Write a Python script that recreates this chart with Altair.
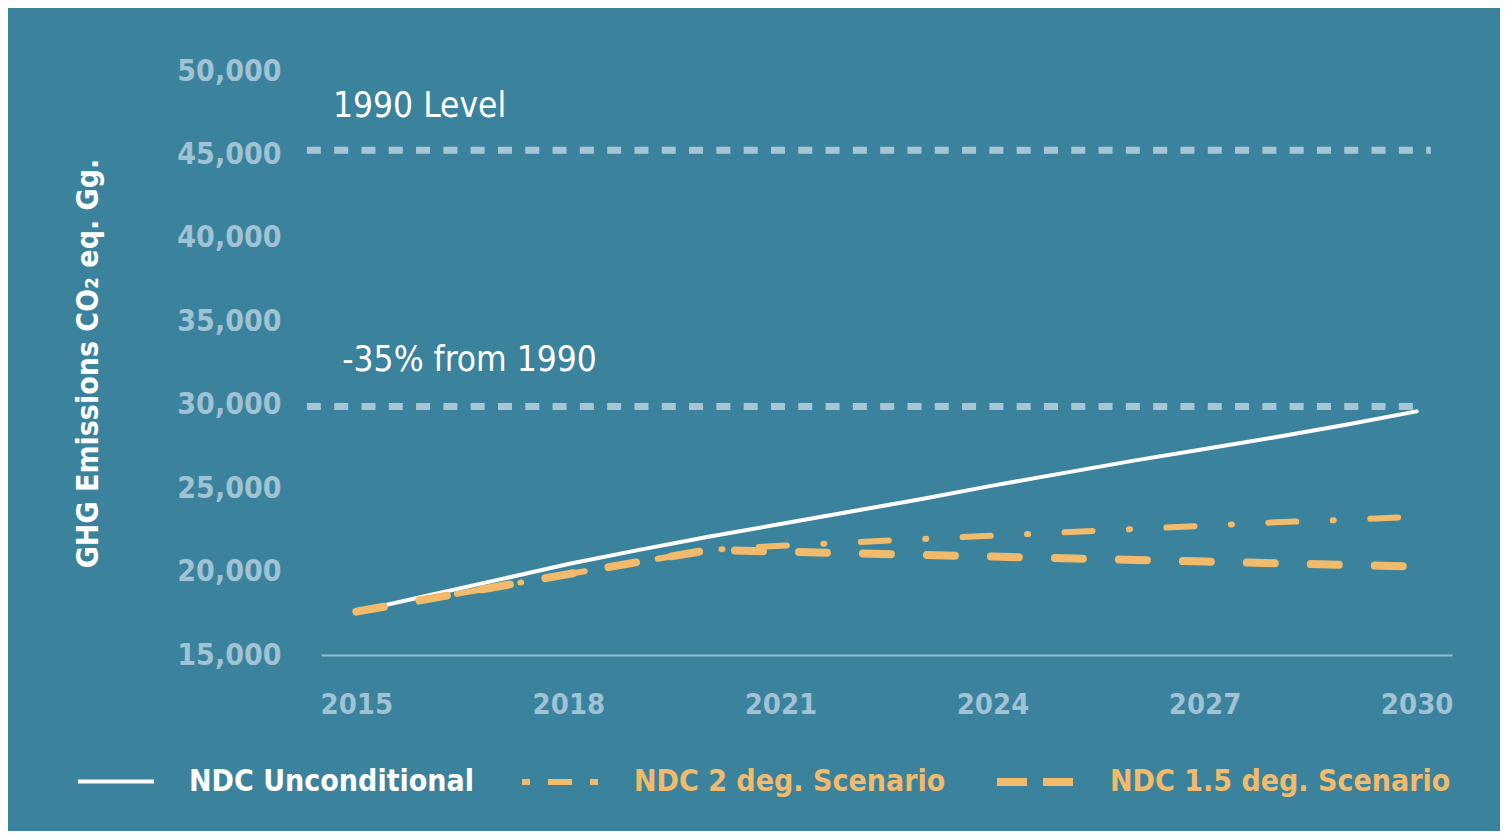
import altair as alt
import pandas as pd

# ---- data ----
years = list(range(2015, 2031))
unconditional = [17600, 18550, 19500, 20450, 21300, 22100, 22850, 23600, 24350,
                 25150, 25900, 26650, 27350, 28050, 28800, 29600]
two_deg = [17600, 18350, 19100, 19850, 20580, 21300, 21550, 21750, 21950,
           22150, 22350, 22550, 22750, 22950, 23100, 23300]
one_five_deg = [17600, 18350, 19100, 19850, 20580, 21300, 21200, 21100, 21000,
                20900, 20800, 20700, 20600, 20500, 20400, 20300]
series_names = ["NDC Unconditional", "NDC 2 deg. Scenario", "NDC 1.5 deg. Scenario"]

ref_values = [45250, 29900]
ref_start = [2014.3, 2014.3]
ref_end = [2030.2, 2030.0]
ref_labels = ["1990 Level", "-35% from 1990"]
label_x = [2014.67, 2014.8]
label_y = [47900, 32650]

x_ticks = [2015, 2018, 2021, 2024, 2027, 2030]
y_ticks = [15000, 20000, 25000, 30000, 35000, 40000, 45000, 50000]

BG = "#3b839d"
LIGHT = "#9fc2d5"
ORANGE = "#f2bb6b"
REF = "#a6c6d7"
FONT = "DejaVu Sans Condensed, DejaVu Sans"

rows = []
for name, vals in zip(series_names, [unconditional, two_deg, one_five_deg]):
    for y, v in zip(years, vals):
        rows.append({"year": y, "value": v, "series": name})
df = pd.DataFrame(rows)

ref_df = pd.DataFrame({"value": ref_values, "x0": ref_start, "x1": ref_end})
lab_df = pd.DataFrame({"text": ref_labels, "x": label_x, "y": label_y})

xscale = alt.Scale(domain=[2014.5, 2030.5], nice=False, zero=False)
yscale = alt.Scale(domain=[15000, 50000], nice=False, zero=False)
xaxis = alt.Axis(values=x_ticks, format="d", title=None)
ytitle = "GHG Emissions CO₂ eq. Gg."
yaxis = alt.Axis(values=y_ticks, format=",.0f", title=ytitle)

rules = alt.Chart(ref_df).mark_rule(
    color=REF, strokeWidth=7, strokeDash=[14, 13.3], strokeCap="butt"
).encode(
    x=alt.X("x0:Q", scale=xscale, axis=xaxis, title=None),
    x2="x1:Q",
    y=alt.Y("value:Q", scale=yscale, axis=yaxis, title=ytitle),
)

labels = alt.Chart(lab_df).mark_text(
    align="left", baseline="middle", font=FONT, fontSize=35, color="white"
).encode(
    x=alt.X("x:Q", scale=xscale, axis=xaxis, title=None),
    y=alt.Y("y:Q", scale=yscale, axis=yaxis, title=ytitle),
    text="text:N",
)

dash_expr = ("datum.value == 'NDC 2 deg. Scenario' ? [8, 18, 24, 18, 8, 200] : "
             "datum.value == 'NDC 1.5 deg. Scenario' ? [30, 16, 30, 200] : [1, 0]")
fill_expr = f"datum.value == 'NDC Unconditional' ? 'white' : '{ORANGE}'"

legend = alt.Legend(
    title=None, orient="none", direction="horizontal",
    legendX=-245, legendY=669,
    symbolType="stroke", symbolSize=5776,
    symbolDash=alt.ExprRef(expr=dash_expr),
    labelOffset=33, columnPadding=35, padding=0,
    labelFont=FONT, labelFontSize=30, labelFontWeight="bold",
    labelColor=alt.ExprRef(expr=fill_expr),
    labelLimit=600)

color = alt.Color("series:N",
                  scale=alt.Scale(domain=series_names,
                                  range=["white", ORANGE, ORANGE]),
                  legend=legend)
width = alt.StrokeWidth("series:N",
                        scale=alt.Scale(domain=series_names, range=[4, 8, 8]),
                        legend=None)

base = alt.Chart(df).encode(
    x=alt.X("year:Q", scale=xscale, axis=xaxis, title=None),
    y=alt.Y("value:Q", scale=yscale, axis=yaxis, title=ytitle),
    color=color,
    strokeWidth=width,
    order=alt.Order("year:Q"),
)

line_uncond = base.transform_filter(alt.datum.series == series_names[0]).mark_line(
    strokeCap="round")
line_2deg = base.transform_filter(alt.datum.series == series_names[1]).mark_line(
    strokeCap="round").encode(strokeDash=alt.value([28, 36.5, 1, 36.5]))
line_15deg = base.transform_filter(alt.datum.series == series_names[2]).mark_line(
    strokeCap="round").encode(strokeDash=alt.value([28, 36]))

chart = alt.layer(rules, labels, line_uncond, line_2deg, line_15deg).properties(
    width=1131, height=584,
    background=BG,
    padding={"left": 313, "top": 63, "right": 48, "bottom": 176},
    autosize=alt.AutoSizeParams(type="none"),
).configure_view(stroke=None).configure_axis(
    grid=False, ticks=False, tickSize=0,
    labelColor=LIGHT, labelFont=FONT, labelFontWeight="bold",
    titleColor="white", titleFont=FONT, titleFontSize=30, titleFontWeight="bold",
).configure_axisX(
    domainColor="#93bbcf", domainWidth=2, labelPadding=35, labelFontSize=29,
).configure_axisY(
    domain=False, labelPadding=40, titlePadding=73, labelFontSize=30,
)

chart.save("out.html", embed_options={"renderer": "svg", "actions": False})
